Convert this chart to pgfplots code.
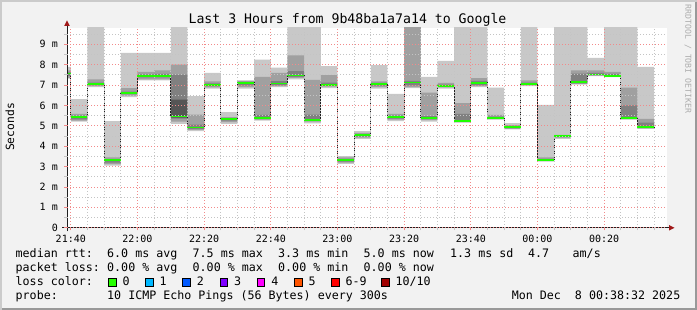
\documentclass[border=0pt]{standalone}
\usepackage{pgfplots}
\pgfplotsset{compat=1.18}
\usepgfplotslibrary{fillbetween}
\usepackage{pgfplotstable}
\usepackage{fontspec}
\newfontfamily\mono{DejaVu Sans Mono}
\definecolor{bgc}{HTML}{F2F2F2}
\definecolor{shadea}{HTML}{CBCBCB}
\definecolor{shadeb}{HTML}{999999}
\definecolor{mgrid}{HTML}{F28A8A}
\definecolor{mingrid}{HTML}{C4C4C4}
\definecolor{lgray}{HTML}{C8C8C8}
\definecolor{mgray}{HTML}{A0A0A0}
\definecolor{dgray}{HTML}{808080}
\definecolor{xgray}{HTML}{555555}
\definecolor{medgreen}{HTML}{1EFF00}
\definecolor{arrowc}{HTML}{A01818}
\definecolor{axisc}{HTML}{202020}
\definecolor{lc0}{HTML}{26FF00}
\definecolor{lc1}{HTML}{00B8FF}
\definecolor{lc2}{HTML}{0059FF}
\definecolor{lc3}{HTML}{7E00FF}
\definecolor{lc4}{HTML}{FF00FF}
\definecolor{lc5}{HTML}{FF5500}
\definecolor{lc6}{HTML}{FF0000}
\definecolor{lc7}{HTML}{A10000}

\pgfplotstableread{
x min max mlo mhi dlo dhi xlo xhi med
-1.2 7.31 7.89 7.35 7.72 7.45 7.62 7.56 7.56 7.56
0 5.21 6.31 5.25 5.59 5.32 5.50 5.44 5.44 5.44
5 6.90 10 6.95 7.28 7.00 7.12 7.05 7.05 7.05
10 3.05 5.23 3.12 3.45 3.20 3.30 3.33 3.33 3.33
15 6.41 8.57 6.48 6.85 6.55 6.68 6.62 6.62 6.62
20 7.23 8.57 7.28 7.64 7.38 7.52 7.46 7.46 7.46
25 7.23 8.57 7.28 7.72 7.38 7.55 7.46 7.46 7.46
30 5.10 10 5.20 8.00 5.35 7.51 5.40 6.28 5.46
35 4.74 6.45 4.80 5.55 4.85 5.06 4.92 4.92 4.92
40 6.82 7.59 6.88 7.18 6.95 7.08 7.02 7.02 7.02
45 5.10 5.67 5.18 5.42 5.25 5.36 5.33 5.33 5.33
50 6.82 7.23 6.90 7.20 6.98 7.15 7.11 7.11 7.11
55 5.26 8.25 5.30 7.40 5.33 5.54 5.38 5.38 5.38
60 6.90 7.85 6.95 7.60 7.00 7.19 7.07 7.07 7.07
65 7.28 10 7.35 8.45 7.40 7.68 7.47 7.47 7.47
70 5.12 10 5.20 7.25 5.25 5.55 5.30 5.30 5.30
75 6.85 7.93 6.92 7.48 6.98 7.12 7.02 7.02 7.02
80 3.13 3.51 3.20 3.45 3.25 3.38 3.33 3.33 3.33
85 4.36 4.74 4.42 4.65 4.47 4.58 4.54 4.54 4.54
90 6.82 7.97 6.90 7.18 6.97 7.10 7.05 7.05 7.05
95 5.23 6.57 5.30 5.59 5.35 5.50 5.43 5.43 5.43
100 6.85 10 6.90 10 6.98 7.20 7.12 7.12 7.12
105 5.21 7.40 5.28 6.63 5.33 5.48 5.40 5.40 5.40
110 6.82 8.18 6.88 7.10 6.92 7.02 6.95 6.95 6.95
115 5.15 10 5.18 6.11 5.20 5.59 5.23 5.23 5.23
120 6.90 10 6.95 7.34 7.00 7.20 7.10 7.10 7.10
125 5.30 6.87 5.33 5.54 5.35 5.45 5.38 5.38 5.38
130 4.82 5.13 4.86 5.03 4.88 4.98 4.93 4.93 4.93
135 6.95 10 7.00 7.23 7.02 7.12 7.05 7.05 7.05
140 3.25 6.03 3.28 3.45 3.30 3.38 3.33 3.33 3.33
145 4.36 10 4.42 4.56 4.45 4.50 4.49 4.49 4.49
150 7.02 10 7.05 7.72 7.08 7.56 7.15 7.15 7.15
155 7.44 8.33 7.46 7.72 7.48 7.60 7.52 7.52 7.52
160 7.39 10 7.41 7.64 7.42 7.55 7.46 7.46 7.46
165 5.30 10 5.33 6.87 5.35 6.00 5.38 5.38 5.38
170 4.85 7.89 4.88 5.34 4.90 5.15 4.93 4.93 4.93
175 4.85 7.89 4.88 5.34 4.90 5.15 4.93 4.93 4.93
}\smoke

\newcommand{\lf}{\mono\fontsize{11.66}{13}\selectfont}

\begin{document}
\begin{tikzpicture}[x=1pt,y=1pt]
\fill[bgc] (0,0) rectangle (697,310);
\fill[shadea] (0,0) rectangle (2,310);
\fill[shadea] (0,308) rectangle (697,310);
\fill[shadeb] (695,0) rectangle (697,308);
\fill[shadeb] (2,0) rectangle (697,2);
\fill[white] (67,82.2) rectangle (667,282.3);
\begin{axis}[
  at={(67pt,82.2pt)}, anchor=south west,
  scale only axis, width=600pt, height=200.1pt,
  xmin=-1.14, xmax=178.86, ymin=0, ymax=9.81,
  axis on top,
  fill between/on layer=main,
  axis x line=bottom, axis y line=left,
  axis line style={draw=none},
  xtick={0,20,40,60,80,100,120,140,160},
  xticklabels={21:40,22:00,22:20,22:40,23:00,23:20,23:40,00:00,00:20},
  minor xtick={5,10,15,25,30,35,45,50,55,65,70,75,85,90,95,105,110,115,125,130,135,145,150,155,165,170,175},
  ytick={0,1,2,3,4,5,6,7,8,9},
  yticklabels={0,1 m,2 m,3 m,4 m,5 m,6 m,7 m,8 m,9 m},
  minor ytick={0.5,1.5,2.5,3.5,4.5,5.5,6.5,7.5,8.5,9.5},
  grid=both,
  major grid style={draw=mgrid, dash pattern=on 1pt off 2pt, line width=0.8pt},
  minor grid style={draw=mingrid, dash pattern=on 1pt off 2pt, line width=0.8pt},
  tick align=outside,
  major tick length=2.5pt, minor tick length=2.5pt,
  major tick style={draw=mgrid, line width=0.8pt},
  minor tick style={draw=mingrid, line width=0.8pt},
  ticklabel style={font=\mono\fontsize{10}{12}\selectfont},
  xticklabel style={anchor=base, inner sep=0pt, yshift=-12.5pt},
  yticklabel style={anchor=base east, inner sep=0pt, xshift=-6.5pt, yshift=-3.6pt},
]
\addplot[name path=Lmin, draw=none, const plot mark left, forget plot] table[x=x,y=min]{\smoke};
\addplot[name path=Lmax, draw=none, const plot mark left, forget plot] table[x=x,y=max]{\smoke};
\addplot[fill=lgray, draw=none, forget plot] fill between[of=Lmin and Lmax];
\addplot[name path=Mlo, draw=none, const plot mark left, forget plot] table[x=x,y=mlo]{\smoke};
\addplot[name path=Mhi, draw=none, const plot mark left, forget plot] table[x=x,y=mhi]{\smoke};
\addplot[fill=mgray, draw=none, forget plot] fill between[of=Mlo and Mhi];
\addplot[name path=Dlo, draw=none, const plot mark left, forget plot] table[x=x,y=dlo]{\smoke};
\addplot[name path=Dhi, draw=none, const plot mark left, forget plot] table[x=x,y=dhi]{\smoke};
\addplot[fill=dgray, draw=none, forget plot] fill between[of=Dlo and Dhi];
\addplot[name path=Xlo, draw=none, const plot mark left, forget plot] table[x=x,y=xlo]{\smoke};
\addplot[name path=Xhi, draw=none, const plot mark left, forget plot] table[x=x,y=xhi]{\smoke};
\addplot[fill=xgray, draw=none, forget plot] fill between[of=Xlo and Xhi];
\addplot[axisc, line width=1pt, dash pattern=on 1.2pt off 0.8pt, const plot mark left, forget plot] table[x=x,y=med]{\smoke};
\addplot[medgreen, line width=1.8pt, jump mark left, forget plot] table[x=x,y=med]{\smoke};
\end{axis}
% axes and arrows
\draw[axisc, line width=1pt] (62,82.2) -- (669,82.2);
\draw[axisc, line width=1pt] (67,78.5) -- (67,284.5);
\fill[arrowc] (674.5,82.2) -- (669,79.4) -- (669,85.0) -- cycle;
\fill[arrowc] (67,289.5) -- (64.2,284) -- (69.8,284) -- cycle;
% title and labels
\node[anchor=base, inner sep=0pt, font=\mono\fontsize{13.2}{15}\selectfont] at (347.5,286) {Last 3 Hours from 9b48ba1a7a14 to Google};
\node[rotate=90, inner sep=0pt, font=\mono\fontsize{11.3}{13}\selectfont] at (9.8,183) {Seconds};
\node[rotate=-90, inner sep=0pt, text=shadeb!80, font=\mono\fontsize{8.2}{10}\selectfont] at (688,251) {RRDTOOL / TOBI OETIKER};
% legend
\begin{scope}[every node/.style={anchor=base west, inner sep=0pt, font=\lf}]
\node at (15.5,52.3) {median rtt:};
\node at (107,52.3) {6.0 ms avg};
\node at (192.5,52.3) {7.5 ms max};
\node at (278,52.3) {3.3 ms min};
\node at (363.5,52.3) {5.0 ms now};
\node at (450,52.3) {1.3 ms sd};
\node at (528,52.3) {4.7};
\node at (572.5,52.3) {am/s};
\node at (15.5,38.3) {packet loss:};
\node at (107,38.3) {0.00 \% avg};
\node at (192.5,38.3) {0.00 \% max};
\node at (278,38.3) {0.00 \% min};
\node at (363.5,38.3) {0.00 \% now};
\node at (15.5,24.3) {loss color:};
\node at (15.5,10.3) {probe:};
\node at (107,10.3) {10 ICMP Echo Pings (56 Bytes) every 300s};
\node[anchor=base east] at (680.5,10.3) {Mon Dec~~8 00:38:32 2025};
\foreach \bx/\c/\t in {108.3/lc0/0, 145.5/lc1/1, 182.7/lc2/2, 219.9/lc3/3, 257.1/lc4/4, 294.3/lc5/5, 331.5/lc6/6-9, 381.3/lc7/10\slash 10}{
  \filldraw[fill=\c, draw=black, line width=0.8pt] (\bx,23.5) rectangle (\bx+7.6,31.5);
  \node at (\bx+14,24.3) {\t};
}
\end{scope}
\pgfresetboundingbox
\useasboundingbox (0,0) rectangle (697,310);
\end{tikzpicture}
\end{document}
